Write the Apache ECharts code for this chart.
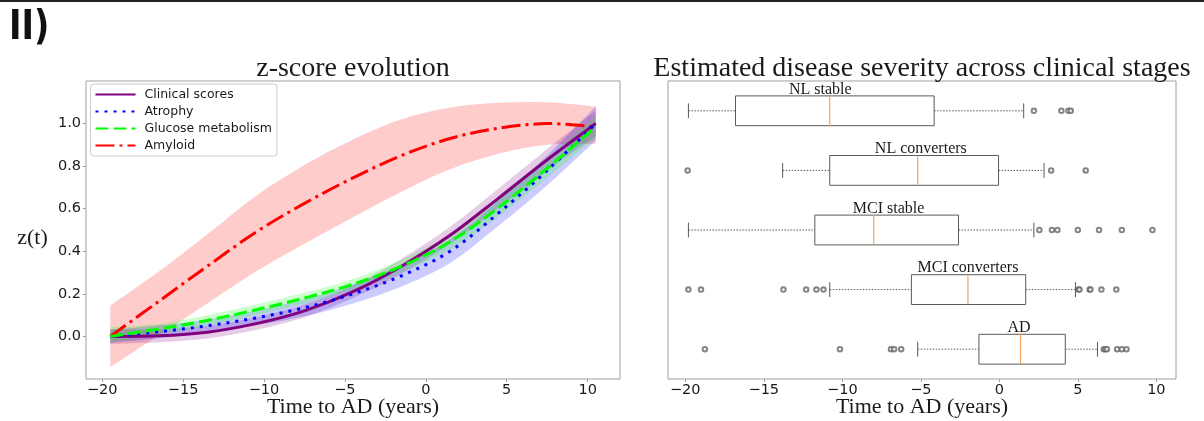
<!DOCTYPE html>
<html>
<head>
<meta charset="utf-8">
<script src="https://cdn.jsdelivr.net/npm/echarts@6/dist/echarts.min.js"></script>
<style>
  html, body { margin: 0; padding: 0; background: #ffffff; }
  #chart { width: 1204px; height: 421px; }
</style>
</head>
<body>
<div id="chart"></div>
<script>
// ---- z-score evolution (left panel) ----
const timeGrid = [-19.5, -16.5, -13.5, -10.5, -7.5, -4.5, -1.5, 1.5, 4.5, 7.5, 10.5];

const clinicalMean  = [0.0, 0.003, 0.02, 0.06, 0.12, 0.21, 0.33, 0.475, 0.65, 0.83, 1.0];
const clinicalLower = [-0.035, -0.027, -0.01, 0.03, 0.09, 0.18, 0.295, 0.435, 0.605, 0.78, 0.94];
const clinicalUpper = [0.035, 0.033, 0.05, 0.09, 0.15, 0.24, 0.365, 0.515, 0.695, 0.88, 1.06];

const atrophyMean  = [0.0, 0.022, 0.05, 0.087, 0.135, 0.2, 0.285, 0.4, 0.58, 0.78, 1.0];
const atrophyLower = [-0.03, -0.008, 0.02, 0.052, 0.095, 0.155, 0.235, 0.345, 0.52, 0.71, 0.92];
const atrophyUpper = [0.03, 0.052, 0.08, 0.122, 0.175, 0.245, 0.335, 0.455, 0.64, 0.85, 1.08];

const glucoseMean  = [0.0, 0.035, 0.075, 0.125, 0.18, 0.245, 0.33, 0.445, 0.605, 0.79, 0.985];
const glucoseLower = [-0.03, 0.01, 0.05, 0.1, 0.155, 0.22, 0.3, 0.41, 0.565, 0.745, 0.935];
const glucoseUpper = [0.045, 0.06, 0.1, 0.15, 0.205, 0.27, 0.36, 0.48, 0.645, 0.835, 1.035];

const amyloidMean  = [0.0, 0.165, 0.33, 0.49, 0.625, 0.745, 0.85, 0.93, 0.978, 1.0, 0.985];
const amyloidLower = [-0.145, 0.005, 0.155, 0.305, 0.435, 0.56, 0.68, 0.785, 0.858, 0.9, 0.905];
const amyloidUpper = [0.145, 0.305, 0.48, 0.66, 0.805, 0.925, 1.02, 1.075, 1.098, 1.1, 1.08];

const zTicks = [0.0, 0.2, 0.4, 0.6, 0.8, 1.0];
const timeTicks = [-20, -15, -10, -5, 0, 5, 10];

// ---- disease severity per clinical stage (right panel) ----
const stages = ['NL stable', 'NL converters', 'MCI stable', 'MCI converters', 'AD'];
const whiskerLow  = [-19.8, -13.8, -19.8, -10.8, -5.2];
const quart1      = [-16.8, -10.8, -11.75, -5.6, -1.3];
const medians     = [-10.8, -5.2, -8.0, -2.0, 1.35];
const quart3      = [-4.15, -0.05, -2.6, 1.68, 4.2];
const whiskerHigh = [1.55, 2.85, 2.2, 4.85, 6.25];
const stageMeans  = [-11.4, -5.0, -7.05, -2.0, 1.25];
const outliers = [
  [2.2, 3.95, 4.4, 4.55],
  [-19.85, 3.3, 5.5],
  [2.55, 3.35, 3.7, 5.0, 6.35, 7.8, 9.75],
  [-19.8, -19.0, -13.75, -12.3, -11.65, -11.2, 5.05, 5.1, 5.75, 5.8, 6.5, 7.45],
  [-18.75, -10.15, -6.9, -6.7, -6.25, 6.65, 6.75, 6.85, 7.5, 7.8, 8.1]
];

const serif = '"Liberation Serif", "Times New Roman", serif';
const sans = '"DejaVu Sans", sans-serif';
const frameColor = '#a0a0a0';
const textColor = '#1a1a1a';

const chart = echarts.init(document.getElementById('chart'), null, { renderer: 'canvas' });

// Smooth path segments (Catmull-Rom as cubic Bezier) through pixel points
function splineSegments(pts) {
  let d = '';
  const n = pts.length;
  for (let i = 0; i < n - 1; i++) {
    const p0 = pts[Math.max(i - 1, 0)], p1 = pts[i], p2 = pts[i + 1], p3 = pts[Math.min(i + 2, n - 1)];
    const c1 = [p1[0] + (p2[0] - p0[0]) / 6, p1[1] + (p2[1] - p0[1]) / 6];
    const c2 = [p2[0] - (p3[0] - p1[0]) / 6, p2[1] - (p3[1] - p1[1]) / 6];
    d += ' C' + c1[0] + ',' + c1[1] + ' ' + c2[0] + ',' + c2[1] + ' ' + p2[0] + ',' + p2[1];
  }
  return d;
}

// Shaded confidence band between a lower and an upper curve
function band(id, lower, upper, color) {
  return {
    type: 'custom', name: id + ' band', xAxisIndex: 0, yAxisIndex: 0, silent: true, z: 1, clip: true,
    data: timeGrid.map((t, i) => [t, lower[i], upper[i]]),
    encode: { x: 0, y: [1, 2] },
    renderItem: (params, api) => {
      if (params.dataIndex !== 0) return null;
      const up = timeGrid.map((t, i) => api.coord([t, upper[i]]));
      const lo = timeGrid.map((t, i) => api.coord([t, lower[i]])).reverse();
      const d = 'M' + up[0][0] + ',' + up[0][1] + splineSegments(up) +
        ' L' + lo[0][0] + ',' + lo[0][1] + splineSegments(lo) + ' Z';
      return { type: 'path', shape: { pathData: d }, style: { fill: color } };
    }
  };
}

// Fitted mean trajectory drawn as a smooth stroked curve
function meanCurve(id, values, color, dash) {
  return {
    type: 'custom', name: id + ' curve', xAxisIndex: 0, yAxisIndex: 0, silent: true, z: 3, clip: true,
    data: timeGrid.map((t, i) => [t, values[i]]),
    encode: { x: 0, y: 1 },
    renderItem: (params, api) => {
      if (params.dataIndex !== 0) return null;
      const pts = timeGrid.map((t, i) => api.coord([t, values[i]]));
      const d = 'M' + pts[0][0] + ',' + pts[0][1] + splineSegments(pts);
      return { type: 'path', shape: { pathData: d },
        style: { fill: 'none', stroke: color, lineWidth: 3, lineDash: dash, lineCap: 'butt' } };
    }
  };
}

// Legend entry carrying the stroke style of a curve
function legendEntry(name, color, dash) {
  return {
    type: 'line', name: name, xAxisIndex: 0, yAxisIndex: 0, symbol: 'none', data: [],
    itemStyle: { color: color },
    lineStyle: { color: color, width: 3, type: dash || 'solid', cap: 'butt' }
  };
}

const boxRows = stages.map((s, i) => [i + 1, whiskerLow[i], quart1[i], medians[i], quart3[i], whiskerHigh[i], stageMeans[i]]);
const outlierPoints = [];
outliers.forEach((row, i) => row.forEach(v => outlierPoints.push([v, i + 1])));

function renderBox(params, api) {
  const pos = api.value(0);
  const lo = api.value(1), q1 = api.value(2), med = api.value(3), q3 = api.value(4), hi = api.value(5), at = api.value(6);
  const half = 0.25, capHalf = 0.125;
  const a = api.coord([q1, pos - half]);
  const b = api.coord([q3, pos + half]);
  const edge = '#5a5a5a';
  const line = (x1, y1, x2, y2, style) => ({ type: 'line', shape: { x1, y1, x2, y2 }, style });
  const cy = api.coord([med, pos])[1];
  const capTop = api.coord([lo, pos - capHalf])[1];
  const capBot = api.coord([lo, pos + capHalf])[1];
  const xLo = api.coord([lo, pos])[0], xHi = api.coord([hi, pos])[0];
  const xMed = api.coord([med, pos])[0];
  const labelPt = api.coord([at, pos - half]);
  const whiskerStyle = { stroke: edge, lineWidth: 1, lineDash: [1.5, 1.5] };
  const solid = { stroke: edge, lineWidth: 1 };
  return {
    type: 'group',
    children: [
      line(xLo, cy, a[0], cy, whiskerStyle),
      line(b[0], cy, xHi, cy, whiskerStyle),
      line(xLo, capTop, xLo, capBot, solid),
      line(xHi, capTop, xHi, capBot, solid),
      { type: 'rect', shape: { x: a[0], y: a[1], width: b[0] - a[0], height: b[1] - a[1] },
        style: { fill: 'rgba(255,255,255,0)', stroke: edge, lineWidth: 1 } },
      line(xMed, a[1], xMed, b[1], { stroke: '#f5a55f', lineWidth: 1.2 }),
      { type: 'text', x: labelPt[0], y: labelPt[1] - 6.5,
        style: { text: stages[params.dataIndex], fill: textColor, fontSize: 16, fontFamily: serif,
          align: 'center', verticalAlign: 'middle' } }
    ]
  };
}

const minusFmt = v => (v < 0 ? '\u2212' + Math.abs(v) : String(v));

const dotted = [3, 6];
const dashed = [13, 5];
const dashDot = [19, 5, 3, 5];

const option = {
  animation: false,
  backgroundColor: '#ffffff',
  textStyle: { fontFamily: sans },
  graphic: [
    { type: 'rect', left: 0, top: 0, shape: { width: 1204, height: 2 }, style: { fill: '#222' } },
    { type: 'text', x: 9, y: 28.6, scaleX: 0.84, style: { text: 'II)', fontSize: 40, fontWeight: 'bold',
        fontFamily: '"DejaVu Sans", sans-serif', fill: '#111', verticalAlign: 'middle' } },
    { type: 'text', x: 353, y: 68.5, style: { text: 'z-score evolution', fontSize: 28, fontFamily: serif,
        fill: textColor, align: 'center', verticalAlign: 'middle' } },
    { type: 'text', x: 922, y: 68.5, style: { text: 'Estimated disease severity across clinical stages',
        fontSize: 28, fontFamily: serif, fill: textColor, align: 'center', verticalAlign: 'middle' } },
    { type: 'text', x: 32.5, y: 238.5, style: { text: 'z(t)', fontSize: 22, fontFamily: serif,
        fill: textColor, align: 'center', verticalAlign: 'middle' } },
    { type: 'text', x: 353, y: 407.5, style: { text: 'Time to AD (years)', fontSize: 22, fontFamily: serif,
        fill: textColor, align: 'center', verticalAlign: 'middle' } },
    { type: 'text', x: 922, y: 407.5, style: { text: 'Time to AD (years)', fontSize: 22, fontFamily: serif,
        fill: textColor, align: 'center', verticalAlign: 'middle' } }
  ],
  legend: {
    data: ['Clinical scores', 'Atrophy', 'Glucose metabolism', 'Amyloid'],
    orient: 'vertical', left: 90.5, top: 84,
    padding: [4, 5, 4, 4], itemWidth: 40, itemHeight: 14, itemGap: 4,
    backgroundColor: '#ffffff', borderColor: '#cccccc', borderWidth: 1, borderRadius: 3,
    selectedMode: false,
    itemStyle: { opacity: 0 },
    textStyle: { fontFamily: sans, fontSize: 12.5, color: textColor, padding: [0, 0, 0, 4] }
  },
  grid: [
    { left: 86, right: 1204 - 620, top: 81, bottom: 421 - 379, show: true,
      borderColor: frameColor, borderWidth: 1, backgroundColor: 'transparent' },
    { left: 668, right: 1204 - 1176, top: 81, bottom: 421 - 379, show: true,
      borderColor: frameColor, borderWidth: 1, backgroundColor: 'transparent' }
  ],
  xAxis: [
    { type: 'value', gridIndex: 0, min: -21, max: 12, position: 'bottom',
      axisLine: { show: false, onZero: false }, splitLine: { show: false },
      axisTick: { show: true, length: 3, lineStyle: { color: frameColor }, customValues: timeTicks },
      axisLabel: { customValues: timeTicks, margin: 4, fontSize: 14.5, fontFamily: sans, color: textColor,
        formatter: minusFmt } },
    { type: 'value', gridIndex: 1, min: -21.1, max: 11.25, position: 'bottom',
      axisLine: { show: false, onZero: false }, splitLine: { show: false },
      axisTick: { show: true, length: 3, lineStyle: { color: frameColor }, customValues: timeTicks },
      axisLabel: { customValues: timeTicks, margin: 4, fontSize: 14.5, fontFamily: sans, color: textColor,
        formatter: minusFmt } }
  ],
  yAxis: [
    { type: 'value', gridIndex: 0, min: -0.2, max: 1.2, position: 'left',
      axisLine: { show: false, onZero: false }, splitLine: { show: false },
      axisTick: { show: true, length: 3, lineStyle: { color: frameColor }, customValues: zTicks },
      axisLabel: { customValues: zTicks, margin: 5, fontSize: 14.5, fontFamily: sans, color: textColor,
        formatter: v => v.toFixed(1) } },
    { type: 'value', gridIndex: 1, min: 0.5, max: 5.5, inverse: true, show: false }
  ],
  series: [
    band('amyloid', amyloidLower, amyloidUpper, 'rgba(255,0,0,0.2)'),
    band('clinical', clinicalLower, clinicalUpper, 'rgba(128,0,128,0.2)'),
    band('atrophy', atrophyLower, atrophyUpper, 'rgba(0,0,255,0.2)'),
    band('glucose', glucoseLower, glucoseUpper, 'rgba(0,255,0,0.2)'),
    meanCurve('amyloid', amyloidMean, '#ff0000', dashDot),
    meanCurve('clinical', clinicalMean, '#800080', null),
    meanCurve('atrophy', atrophyMean, '#0000ff', dotted),
    meanCurve('glucose', glucoseMean, '#00ff00', dashed),
    legendEntry('Clinical scores', '#800080', 'solid'),
    legendEntry('Atrophy', '#0000ff', dotted),
    legendEntry('Glucose metabolism', '#00ff00', dashed),
    legendEntry('Amyloid', '#ff0000', dashDot),
    {
      type: 'custom', name: 'stages', xAxisIndex: 1, yAxisIndex: 1,
      data: boxRows, encode: { x: [1, 2, 3, 4, 5], y: 0 },
      renderItem: renderBox, silent: true, z: 2
    },
    {
      type: 'scatter', name: 'outliers', xAxisIndex: 1, yAxisIndex: 1,
      data: outlierPoints, symbol: 'emptyCircle', symbolSize: 4.5, silent: true, z: 3,
      itemStyle: { color: '#666666', borderWidth: 0.8 }
    }
  ]
};

chart.setOption(option);
</script>
</body>
</html>
